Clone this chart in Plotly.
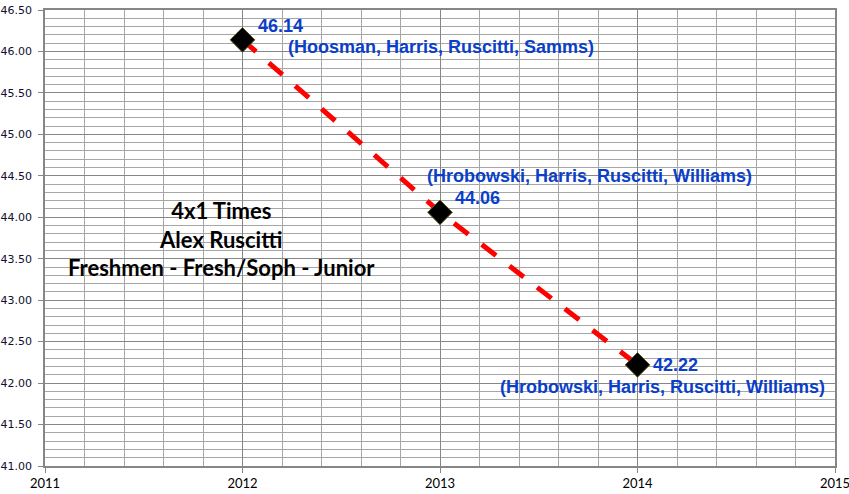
import plotly.graph_objects as go

# data
years = [2012, 2013, 2014]
times = [46.14, 44.06, 42.22]
value_labels = ["46.14", "44.06", "42.22"]
relay_teams = [
    "(Hoosman, Harris, Ruscitti, Samms)",
    "(Hrobowski, Harris, Ruscitti, Williams)",
    "(Hrobowski, Harris, Ruscitti, Williams)",
]
title_lines = ["4x1 Times", "Alex Ruscitti", "Freshmen - Fresh/Soph - Junior"]

BLUE = "#0B3FC9"
MAJOR_GRID = "#868686"
MINOR_GRID = "#A6A6A6"

fig = go.Figure()
fig.add_trace(go.Scatter(
    x=years,
    y=times,
    mode="lines+markers",
    line=dict(color="#FF0000", width=5, dash="18px,17px"),
    marker=dict(symbol="diamond", size=19, color="black",
                line=dict(color="#5A5A20", width=1)),
    showlegend=False,
    hoverinfo="x+y",
))

# pixel offsets of each label from its point: (value label, team label)
offsets = [
    ((13, 14), (43, -7)),
    ((13, 14), (-15, 36)),
    ((13, 0), (-140, -22)),
]
label_font = dict(family="Liberation Sans, Arial", size=18, color=BLUE)
for yr, t, val, team, (vo, to) in zip(years, times, value_labels, relay_teams, offsets):
    fig.add_annotation(x=yr, y=t, text="<b>%s</b>" % val, showarrow=False,
                       xanchor="left", yanchor="middle",
                       xshift=vo[0], yshift=vo[1], font=label_font)
    fig.add_annotation(x=yr, y=t, text="<b>%s</b>" % team, showarrow=False,
                       xanchor="left", yanchor="middle",
                       xshift=to[0], yshift=to[1], font=label_font)

# centred text block, placed in paper coords (plot area is 790 x 456 px)
fig.add_annotation(
    x=(221 - 45) / 790, y=(466 - 239) / 456, xref="paper", yref="paper",
    text="<br>".join("<b>%s</b>" % s for s in title_lines),
    showarrow=False, xanchor="center", yanchor="middle", align="center",
    font=dict(family="Lato", size=22, color="black"),
)

fig.update_layout(
    width=849, height=494,
    margin=dict(l=45, r=14, t=10, b=28, autoexpand=False),
    paper_bgcolor="white",
    plot_bgcolor="white",
    xaxis=dict(
        range=[2011, 2015], dtick=1, tick0=2011,
        showgrid=True, gridcolor=MAJOR_GRID, gridwidth=1,
        minor=dict(dtick=0.2, showgrid=True, gridcolor=MINOR_GRID, gridwidth=1),
        showline=True, linecolor=MAJOR_GRID, linewidth=1.5, mirror=True,
        ticks="outside", ticklen=5, tickcolor=MAJOR_GRID,
        tickfont=dict(family="Lato", size=13, color="black"),
        ticklabeloverflow="allow",
        zeroline=False, automargin=False,
    ),
    yaxis=dict(
        range=[41, 46.5], dtick=0.5, tick0=41, tickformat=".2f",
        showgrid=True, gridcolor=MAJOR_GRID, gridwidth=1,
        minor=dict(dtick=0.1, showgrid=True, gridcolor=MINOR_GRID, gridwidth=1),
        showline=True, linecolor=MAJOR_GRID, linewidth=1.5, mirror=True,
        ticks="outside", ticklen=5, tickcolor=MAJOR_GRID,
        ticklabelstandoff=4, ticklabeloverflow="allow",
        tickfont=dict(family="DejaVu Sans", size=11, color="#101030"),
        zeroline=False, automargin=False,
    ),
)

# drop the browser's default page margin so the figure sits at the corner
fig.write_html("out.html", config={"displayModeBar": False},
               post_script="document.body.style.margin='0';")
